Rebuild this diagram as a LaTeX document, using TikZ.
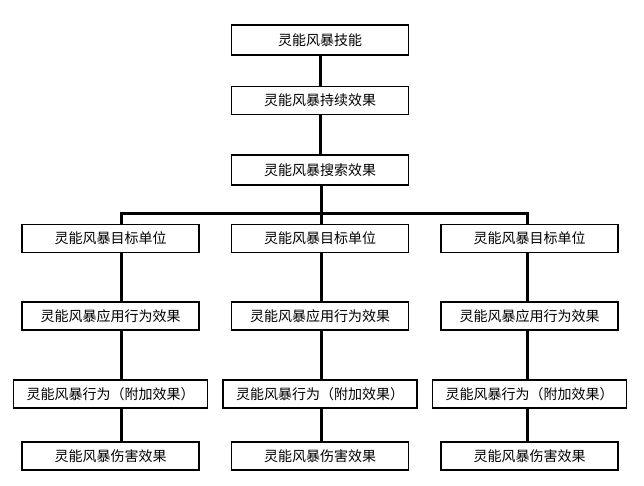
\documentclass[tikz,border=0pt]{standalone}
\usepackage{fontspec}
\newfontfamily\cjk{Noto Sans CJK SC}[FakeStretch=1]
\begin{document}
\begin{tikzpicture}[x=1pt,y=-1pt,
        box/.style={rectangle, draw, line width=1.2pt, minimum width=177pt, minimum height=28pt, inner sep=0pt, font=\cjk\fontsize{14}{16}\selectfont, fill=white},
        wide/.style={box, minimum width=194pt},
        link/.style={line width=3pt}
    ]
        \useasboundingbox (0,0) rectangle (644,485);

        % Trunk
        \node[box, minimum height=30pt] (skill) at (320,40) {灵能风暴技能};
        \node[box] (last) at (320,100.5) {灵能风暴持续效果};
        \node[box, minimum height=30pt] (search) at (320,170) {灵能风暴搜索效果};
        \coordinate (bus) at (321,213);

        % Branches
        \foreach \c/\x/\t in {l/110.5/121, m/320/321, r/529.5/527} {
            \coordinate (col\c) at (\t,0);
            \node[box] (target\c) at (\x,238.5) {灵能风暴目标单位};
            \node[box] (apply\c) at (\x,316) {灵能风暴应用行为效果};
            \node[wide] (extra\c) at (\x,394) {灵能风暴行为（附加效果）};
            \node[box] (damage\c) at (\x,456) {灵能风暴伤害效果};
        }

        % Links
        \draw[link] (skill) -- (last);
        \draw[link] (last) -- (search);
        \draw[link] (search.south -| bus) -- (bus);
        \draw[link] (targetl.north -| coll) -- (bus -| coll) -- (bus -| colr) -- (targetr.north -| colr);
        \draw[link] (bus) -- (targetm.north -| colm);
        \foreach \c in {l, m, r} {
            \draw[link] (target\c.south -| col\c) -- (apply\c.north -| col\c);
            \draw[link] (apply\c.south -| col\c) -- (extra\c.north -| col\c);
            \draw[link] (extra\c.south -| col\c) -- (damage\c.north -| col\c);
        }
\end{tikzpicture}
\end{document}
